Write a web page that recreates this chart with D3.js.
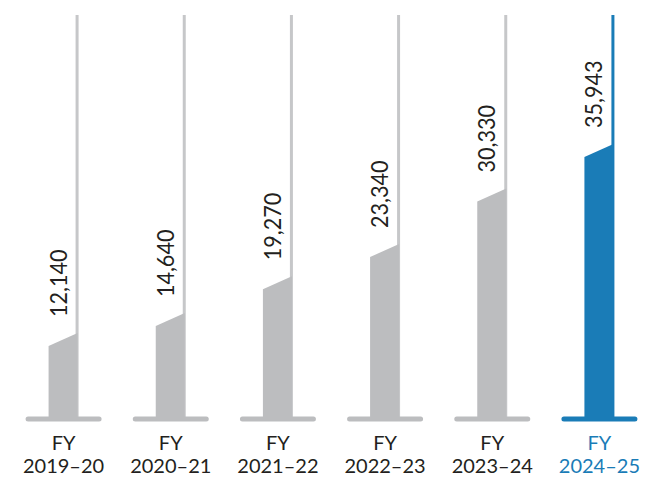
<!DOCTYPE html>
<html>
<head>
<meta charset="utf-8">
<script src="https://cdn.jsdelivr.net/npm/d3@7"></script>
<style>
  body { margin: 0; background: #fff; }
  svg text { font-family: Lato, "Open Sans", sans-serif; }
</style>
</head>
<body>
<div id="chart"></div>
<script>
// data
const years = ["2019–20", "2020–21", "2021–22", "2022–23", "2023–24", "2024–25"];
const values = [12140, 14640, 19270, 23340, 30330, 35943];
const highlight = ["2024–25"];

const W = 646, H = 477;
const baseY = 419;

const svg = d3.select("#chart").append("svg")
    .attr("width", W)
    .attr("height", H);

// band scale for the fiscal years
const x = d3.scaleBand()
    .domain(years)
    .range([10, 653])
    .paddingInner(0)
    .paddingOuter(0);

// value scale (bars sit on a short stub below zero)
const y = d3.scaleLinear()
    .domain([1300, 36000])
    .range([baseY, 143.5]);

const barW = 30, slant = 13, topY = 15;
const gray = "#bcbdbf", lineGray = "#c6c7c9", blue = "#1a7cb7";

const data = years.map((yr, i) => ({ year: yr, value: values[i], hi: highlight.includes(yr) }));
const cx = d => x(d.year) + x.bandwidth() / 2;

const g = svg.selectAll("g.bar")
    .data(data)
    .enter().append("g")
    .attr("class", "bar");

// the tall thin line on the right of each bar
g.append("line")
    .attr("x1", d => cx(d) + 13.5)
    .attr("x2", d => cx(d) + 13.5)
    .attr("y1", topY)
    .attr("y2", baseY)
    .attr("stroke", d => d.hi ? blue : lineGray)
    .attr("stroke-width", 3);

// bar with slanted top
g.append("path")
    .attr("d", d => {
        let l = cx(d) - barW / 2, r = cx(d) + barW / 2 - 1;
        let yt = y(d.value);
        return `M${l},${baseY} L${l},${yt + slant} L${r},${yt} L${r},${baseY} Z`;
    })
    .attr("fill", d => d.hi ? blue : gray);

// base line
g.append("line")
    .attr("x1", d => cx(d) - 35.5)
    .attr("x2", d => cx(d) + 35.5)
    .attr("y1", baseY)
    .attr("y2", baseY)
    .attr("stroke", d => d.hi ? blue : gray)
    .attr("stroke-width", 5)
    .attr("stroke-linecap", "round");

// value labels, rotated
g.append("text")
    .attr("transform", d => `translate(${cx(d) + 3},${y(d.value) - 16}) rotate(-90) scale(0.9,1)`)
    .attr("font-size", 24)
    .attr("fill", "#231f20")
    .text(d => d3.format(",")(d.value));

// category labels
g.append("text")
    .attr("x", cx)
    .attr("y", 450)
    .attr("text-anchor", "middle")
    .attr("font-size", 20)
    .attr("fill", d => d.hi ? blue : "#231f20")
    .text("FY");

g.append("text")
    .attr("x", cx)
    .attr("y", 473)
    .attr("text-anchor", "middle")
    .attr("font-size", 20)
    .attr("fill", d => d.hi ? blue : "#231f20")
    .text(d => d.year);
</script>
</body>
</html>
